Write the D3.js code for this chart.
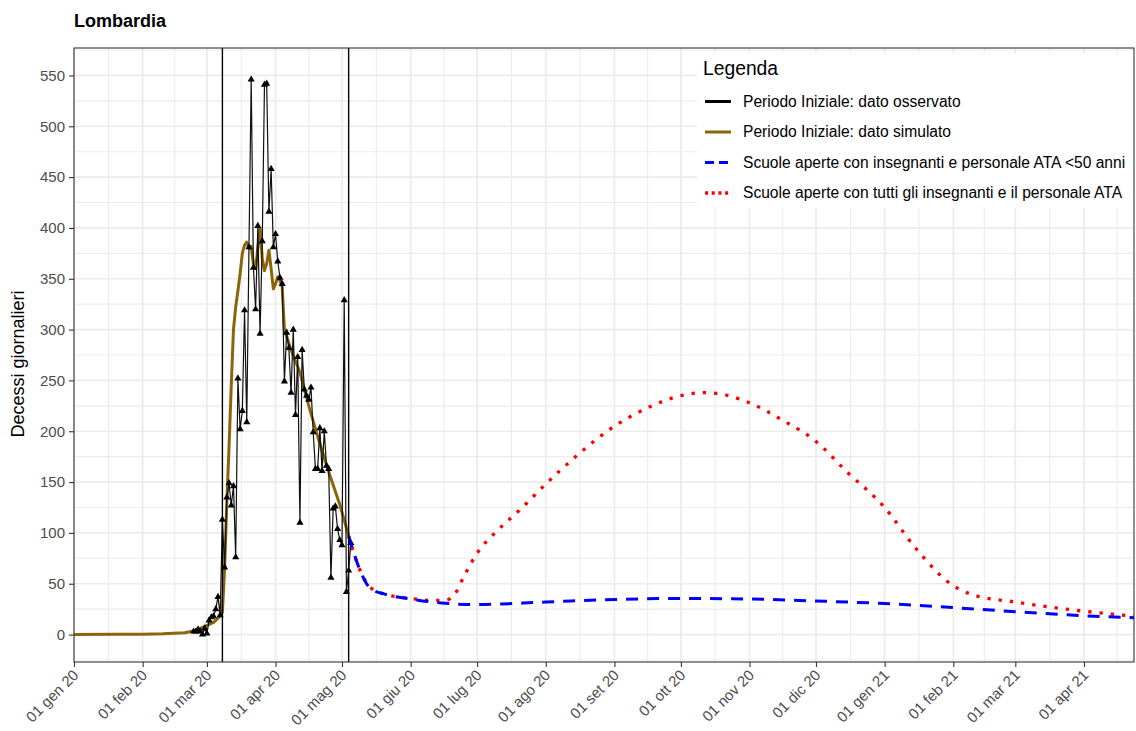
<!DOCTYPE html>
<html><head><meta charset="utf-8">
<script src="https://cdn.jsdelivr.net/npm/d3@7"></script>
<style>
body{margin:0;background:#fff}
text{font-family:"Liberation Sans",Arial,sans-serif}
</style>
</head><body>
<svg id="c" width="1136" height="731"></svg>
<script>
// ---------------- DATA ----------------
const chartTitle = "Lombardia";
const yAxisTitle = "Decessi giornalieri";
const legendTitle = "Legenda";
const seriesNames = [
  "Periodo Iniziale: dato osservato",
  "Periodo Iniziale: dato simulato",
  "Scuole aperte con insegnanti e personale ATA <50 anni",
  "Scuole aperte con tutti gli insegnanti e il personale ATA"
];
const xTickLabels = ["01 gen 20","01 feb 20","01 mar 20","01 apr 20","01 mag 20","01 giu 20",
  "01 lug 20","01 ago 20","01 set 20","01 ott 20","01 nov 20","01 dic 20",
  "01 gen 21","01 feb 21","01 mar 21","01 apr 21"];
const yTicks = [0,50,100,150,200,250,300,350,400,450,500,550];
const phaseDates = ["2020-03-08","2020-05-04"];

// observed daily deaths, consecutive days from obsStart
const obsStart = "2020-02-24";
const obsValues = [3,3,5,3,0,6,
  1,14,17,18,25,37,19,113,66,135,149,127,146,76,252,202,220,319,209,381,546,361,320,402,296,387,541,542,416,458,381,
  394,367,351,345,249,297,282,238,300,216,273,110,280,241,235,231,243,199,163,163,203,161,200,166,163,56,124,126,104,93,
  88,329,42,63,90];

// simulated (initial period)
const simDates = ["2020-01-01","2020-01-20","2020-02-01","2020-02-10","2020-02-20","2020-02-25","2020-02-29",
  "2020-03-04","2020-03-07","2020-03-08","2020-03-09","2020-03-10","2020-03-11","2020-03-12","2020-03-13",
  "2020-03-14","2020-03-15","2020-03-16","2020-03-17","2020-03-18","2020-03-19","2020-03-20","2020-03-21",
  "2020-03-22","2020-03-23","2020-03-24","2020-03-25","2020-03-26","2020-03-27","2020-03-28","2020-03-29",
  "2020-03-30","2020-03-31","2020-04-01","2020-04-02","2020-04-03","2020-04-04","2020-04-05","2020-04-08",
  "2020-04-12","2020-04-16","2020-04-20","2020-04-25","2020-04-30","2020-05-04"];
const simValues = [0,0.2,0.4,0.8,1.8,4,8,
  12,18,22,65,130,185,245,300,
  322,338,355,375,383,386,380,382,
  365,360,380,400,370,358,365,378,
  360,340,345,352,348,342,300,280,
  258,225,195,160,128,97];

// scenario: schools open with staff < 50
const blueDates = ["2020-05-04","2020-05-09","2020-05-14","2020-05-20","2020-06-01","2020-06-15","2020-07-01",
  "2020-08-01","2020-09-01","2020-10-01","2020-11-01","2020-12-01","2021-01-01","2021-02-01","2021-03-01",
  "2021-04-01","2021-04-24"];
const blueValues = [97,64,45,40,35,31,29.5,32,34.5,35.5,35,33,30.5,26.5,22.5,18.5,16.5];

// scenario: schools open with all staff
const redDates = ["2020-05-04","2020-05-09","2020-05-14","2020-05-20","2020-06-01","2020-06-10","2020-06-17",
  "2020-06-21","2020-06-25","2020-07-01","2020-07-10","2020-07-20","2020-08-01","2020-08-15","2020-09-01",
  "2020-09-15","2020-10-01","2020-10-12","2020-11-01","2020-11-15","2020-12-01","2020-12-15","2021-01-01",
  "2021-01-15","2021-02-01","2021-02-10","2021-03-01","2021-04-01","2021-04-24"];
const redValues = [97,64,46,40,35.5,33.5,34,40,57,80,102,122,148,176,205,222,235,238,228,212,190,160,125,
  85,48,39,32,23,18];

// ---------------- DRAW ----------------
const parse = d3.utcParse("%Y-%m-%d");
const svg = d3.select("#c");
const L = 74, T = 48, R = 1134, B = 662;

const x = d3.scaleUtc()
  .domain([new Date(Date.UTC(2020,0,1)), new Date(Date.UTC(2021,3,23,14))])
  .range([L, R]);
const y = d3.scaleLinear().domain([-27, 577]).range([B, T]);

svg.append("rect").attr("width",1136).attr("height",731).attr("fill","#fff");

// grid
const grid = svg.append("g");
const monthTicks = d3.utcMonth.range(new Date(Date.UTC(2020,0,1)), new Date(Date.UTC(2021,4,2)));
const majorX = monthTicks.slice(0, xTickLabels.length);
const minorX = [];
for (let i=0;i<monthTicks.length-1;i++){
  const m = new Date((monthTicks[i].getTime()+monthTicks[i+1].getTime())/2);
  if (m >= x.domain()[0] && m <= x.domain()[1]) minorX.push(m);
}
const minorY = [-25].concat(yTicks.map(v=>v+25));
grid.selectAll(".my").data(minorY).join("line")
  .attr("x1",L).attr("x2",R).attr("y1",d=>y(d)).attr("y2",d=>y(d))
  .attr("stroke","#EBEBEB").attr("stroke-width",1.1);
grid.selectAll(".mx").data(minorX).join("line")
  .attr("y1",T).attr("y2",B).attr("x1",d=>x(d)).attr("x2",d=>x(d))
  .attr("stroke","#EBEBEB").attr("stroke-width",1.1);
grid.selectAll(".Y").data(yTicks).join("line")
  .attr("x1",L).attr("x2",R).attr("y1",d=>y(d)).attr("y2",d=>y(d))
  .attr("stroke","#EBEBEB").attr("stroke-width",1.7);
grid.selectAll(".X").data(majorX).join("line")
  .attr("y1",T).attr("y2",B).attr("x1",d=>x(d)).attr("x2",d=>x(d))
  .attr("stroke","#EBEBEB").attr("stroke-width",1.7);

svg.append("clipPath").attr("id","clp").append("rect")
  .attr("x",L).attr("y",T).attr("width",R-L).attr("height",B-T);
const plot = svg.append("g").attr("clip-path","url(#clp)");

// simulated
const simData = simDates.map((d,i)=>({d:parse(d),v:simValues[i]}));
plot.append("path").datum(simData)
  .attr("d", d3.line().x(p=>x(p.d)).y(p=>y(p.v)))
  .attr("fill","none").attr("stroke","#8B6508").attr("stroke-width",3).attr("stroke-linejoin","round");

// observed
const s0 = parse(obsStart);
const obsData = obsValues.map((v,i)=>({d:d3.utcDay.offset(s0,i),v}));
plot.append("path").datum(obsData)
  .attr("d", d3.line().x(p=>x(p.d)).y(p=>y(p.v)))
  .attr("fill","none").attr("stroke","#111").attr("stroke-width",1.2);
const tri = d3.symbol().type(d3.symbolTriangle).size(22);
plot.selectAll(".pt").data(obsData).join("path")
  .attr("d", tri).attr("transform",p=>`translate(${x(p.d)},${y(p.v)})`).attr("fill","#000");

// scenarios
const blueData = blueDates.map((d,i)=>({d:parse(d),v:blueValues[i]}));
const redData = redDates.map((d,i)=>({d:parse(d),v:redValues[i]}));
const curveLine = d3.line().x(p=>x(p.d)).y(p=>y(p.v)).curve(d3.curveMonotoneX);
plot.append("path").datum(redData).attr("d", curveLine)
  .attr("fill","none").attr("stroke","#FF0000").attr("stroke-width",3.3)
  .attr("stroke-dasharray","3.3,8");
plot.append("path").datum(blueData).attr("d", curveLine)
  .attr("fill","none").attr("stroke","#0000FF").attr("stroke-width",3)
  .attr("stroke-dasharray","12,9");

// phase lines
plot.selectAll(".vl").data(phaseDates).join("line")
  .attr("x1",d=>x(parse(d))).attr("x2",d=>x(parse(d))).attr("y1",T).attr("y2",B)
  .attr("stroke","#000").attr("stroke-width",1.4);

// legend
const lg = svg.append("g");
lg.append("rect").attr("x",697).attr("y",53).attr("width",R-697).attr("height",155).attr("fill","#fff");
lg.append("text").attr("x",703).attr("y",75).attr("font-size",19.3).attr("fill","#000").text(legendTitle);
const keyStyles = [
  {c:"#000", w:3, da:null},
  {c:"#8B6508", w:3, da:null},
  {c:"#0000FF", w:3, da:"9,5"},
  {c:"#FF0000", w:3.3, da:"3,3.7"}
];
const rowY = [101.5, 132, 162.5, 193];
seriesNames.forEach((n,i)=>{
  const k = keyStyles[i];
  const ln = lg.append("line").attr("x1",705).attr("x2",731).attr("y1",rowY[i]).attr("y2",rowY[i])
    .attr("stroke",k.c).attr("stroke-width",k.w);
  if (k.da) ln.attr("stroke-dasharray",k.da);
  lg.append("text").attr("x",743).attr("y",rowY[i]+5.3).attr("font-size",15.6).attr("fill","#000").text(n);
});

// panel border
svg.append("rect").attr("x",L).attr("y",T).attr("width",R-L).attr("height",B-T)
  .attr("fill","none").attr("stroke","#333333").attr("stroke-width",1.1);

// axes
const yAxis = svg.append("g").attr("transform",`translate(${L},0)`)
  .call(d3.axisLeft(y).tickValues(yTicks).tickSize(5).tickPadding(4).tickFormat(d3.format("d")));
yAxis.select(".domain").remove();
yAxis.selectAll("line").attr("stroke","#333333").attr("stroke-width",1.1);
yAxis.selectAll("text").attr("font-size",15).attr("fill","#4D4D4D").attr("font-family","Liberation Sans, Arial, sans-serif");

const xAxis = svg.append("g").attr("transform",`translate(0,${B})`)
  .call(d3.axisBottom(x).tickValues(majorX).tickSize(5).tickFormat((d,i)=>xTickLabels[i]));
xAxis.select(".domain").remove();
xAxis.selectAll("line").attr("stroke","#333333").attr("stroke-width",1.1);
xAxis.selectAll("text").attr("font-size",15).attr("fill","#4D4D4D")
  .attr("font-family","Liberation Sans, Arial, sans-serif")
  .attr("y",0).attr("dy",0).attr("text-anchor","end")
  .attr("transform","translate(5,14) rotate(-45)");

// titles
svg.append("text").attr("x",74).attr("y",27).attr("font-size",18).attr("font-weight","bold")
  .attr("fill","#000").text(chartTitle);
svg.append("text").attr("transform",`translate(24,364) rotate(-90)`).attr("text-anchor","middle")
  .attr("font-size",18).attr("fill","#000").text(yAxisTitle);
</script>
</body></html>
